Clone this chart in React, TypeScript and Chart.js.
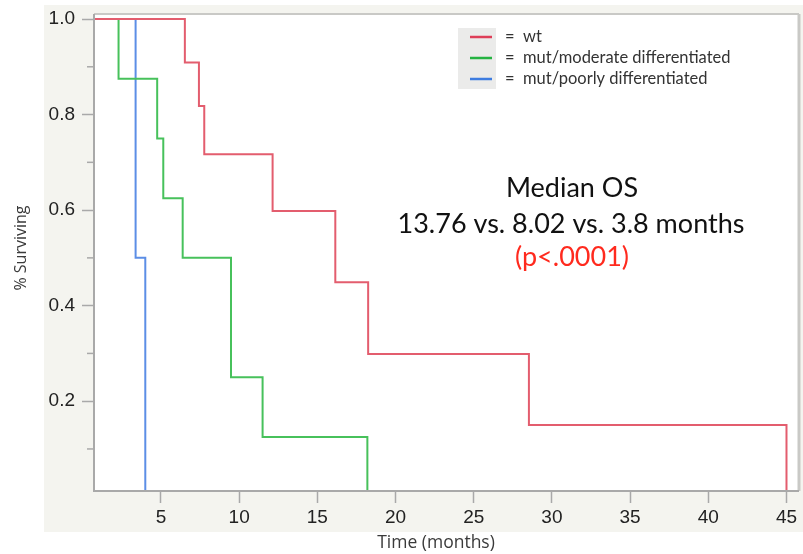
import React, { useEffect, useRef } from "react";
import { Chart, registerables } from "chart.js";

Chart.register(...registerables);

// ---- data ----
const seriesLabels = ["wt", "mut/moderate differentiated", "mut/poorly differentiated"];
const wtTime = [0, 6.53, 7.43, 7.77, 12.14, 16.15, 18.25, 28.53, 45.0];
const wtSurv = [1, 0.909, 0.818, 0.717, 0.598, 0.449, 0.299, 0.15, 0];
const modTime = [0, 2.29, 4.76, 5.15, 6.39, 9.48, 11.5, 18.2];
const modSurv = [1, 0.875, 0.75, 0.625, 0.5, 0.25, 0.125, 0];
const poorTime = [0, 3.38, 4.0];
const poorSurv = [1, 0.5, 0];

const xTickValues = [5, 10, 15, 20, 25, 30, 35, 40, 45];
const yMajorTicks = [0.2, 0.4, 0.6, 0.8, 1.0];
const yMinorTicks = [0.1, 0.3, 0.5, 0.7, 0.9];

const xTitle = "Time (months)";
const yTitle = "% Surviving";
const annotationLines = ["Median OS", "13.76 vs. 8.02 vs. 3.8 months"];
const pValueText = "(p<.0001)";

const lineColors = ["#e35d6e", "#47c15b", "#5c8ee6"];
const legendColors = ["#de3e58", "#25b342", "#3e7ce0"];

const toPoints = (xs: number[], ys: number[]) => xs.map((x, i) => ({ x, y: ys[i] }));

const isMajor = (v: number) => yMajorTicks.some((m) => Math.abs(m - v) < 1e-6);

const decorPlugin = {
  id: "decor",
  beforeDraw(chart: any) {
    const { ctx, chartArea: a, width, height } = chart;
    ctx.save();
    ctx.fillStyle = "#ffffff";
    ctx.fillRect(0, 0, width, height);
    ctx.fillStyle = "#f4f4ef";
    ctx.fillRect(44, 5, width - 44, 532 - 5);
    ctx.fillStyle = "#ffffff";
    ctx.fillRect(a.left, a.top, a.right - a.left, a.bottom - a.top);
    ctx.restore();
  },
  afterDraw(chart: any) {
    const { ctx, chartArea: a, scales } = chart;
    ctx.save();
    // frame
    ctx.lineWidth = 2;
    ctx.strokeStyle = "#c9c9c6";
    ctx.beginPath();
    ctx.moveTo(a.left, a.top);
    ctx.lineTo(a.right, a.top);
    ctx.stroke();
    ctx.lineWidth = 3;
    ctx.beginPath();
    ctx.moveTo(a.right, a.top);
    ctx.lineTo(a.right, a.bottom);
    ctx.stroke();
    ctx.lineWidth = 2;
    ctx.strokeStyle = "#a9a9a9";
    ctx.beginPath();
    ctx.moveTo(a.left, a.top);
    ctx.lineTo(a.left, a.bottom);
    ctx.lineTo(a.right, a.bottom);
    ctx.stroke();
    // minor y ticks
    ctx.lineWidth = 1.5;
    ctx.strokeStyle = "#a9a9a9";
    yMinorTicks.forEach((v) => {
      const y = scales.y.getPixelForValue(v);
      ctx.beginPath();
      ctx.moveTo(a.left - 7, y);
      ctx.lineTo(a.left, y);
      ctx.stroke();
    });

    // axis titles
    ctx.fillStyle = "#3a3a3a";
    ctx.textAlign = "center";
    ctx.textBaseline = "middle";
    ctx.font = "17.5px 'Open Sans', sans-serif";
    ctx.fillText(xTitle, 436, 543);
    ctx.font = "16px 'Open Sans', sans-serif";
    ctx.save();
    ctx.translate(21, 248);
    ctx.rotate(-Math.PI / 2);
    ctx.fillText(yTitle, 0, 0);
    ctx.restore();

    // legend
    ctx.fillStyle = "#ebebea";
    ctx.fillRect(458, 28, 38, 61);
    const rowsY = [37, 58, 79];
    chart.data.datasets.forEach((ds: any, i: number) => {
      ctx.strokeStyle = legendColors[i];
      ctx.lineWidth = 2.5;
      ctx.beginPath();
      ctx.moveTo(470, rowsY[i]);
      ctx.lineTo(492, rowsY[i]);
      ctx.stroke();
      ctx.fillStyle = "#333333";
      ctx.font = "16.5px Lato, sans-serif";
      ctx.textAlign = "left";
      ctx.textBaseline = "middle";
      ctx.fillText("=  " + ds.label, 505, rowsY[i]);
    });

    // annotation
    ctx.textAlign = "center";
    ctx.textBaseline = "alphabetic";
    ctx.font = "27px Lato, sans-serif";
    ctx.fillStyle = "#111111";
    ctx.fillText(annotationLines[0], 572, 197);
    ctx.fillText(annotationLines[1], 571, 233);
    ctx.fillStyle = "#ff2a1e";
    ctx.fillText(pValueText, 572, 266);
    ctx.restore();
  },
};

export default function App() {
  const ref = useRef<HTMLCanvasElement | null>(null);
  useEffect(() => {
    document.body.style.margin = "0";
    const canvas = ref.current;
    if (!canvas) return;
    const series = [
      toPoints(wtTime, wtSurv),
      toPoints(modTime, modSurv),
      toPoints(poorTime, poorSurv),
    ];
    const chart = new Chart(canvas, {
      type: "line",
      data: {
        datasets: series.map((data, i) => ({
          label: seriesLabels[i],
          data,
          borderColor: lineColors[i],
          backgroundColor: lineColors[i],
          borderWidth: 2,
          pointRadius: 0,
          stepped: "before" as const,
          fill: false,
        })),
      },
      options: {
        responsive: false,
        devicePixelRatio: 1,
        animation: false,
        layout: { padding: { left: 0, top: 14, right: 4, bottom: 0 } },
        plugins: { legend: { display: false }, tooltip: { enabled: false } },
        scales: {
          x: {
            type: "linear",
            min: 0.72,
            max: 45.8,
            afterBuildTicks: (s: any) => {
              s.ticks = xTickValues.map((v) => ({ value: v }));
            },
            afterFit: (s: any) => {
              s.height = 63;
              s.paddingLeft = 0;
              s.paddingRight = 0;
            },
            ticks: {
              autoSkip: false,
              maxRotation: 0,
              padding: 3,
              color: "#222222",
              font: { family: "'Liberation Sans', Arial, sans-serif", size: 19 },
              callback: (v: any) => String(v),
            },
            grid: {
              drawOnChartArea: false,
              drawTicks: true,
              tickLength: 12,
              tickColor: "#a9a9a9",
              tickWidth: 1.5,
            },
            border: { display: false },
          },
          y: {
            type: "linear",
            min: 0.012,
            max: 1.0105,
            afterBuildTicks: (s: any) => {
              s.ticks = [...yMinorTicks, ...yMajorTicks]
                .sort((p, q) => p - q)
                .map((v) => ({ value: v }));
            },
            afterFit: (s: any) => {
              s.width = 94;
              s.paddingTop = 0;
              s.paddingBottom = 0;
            },
            ticks: {
              autoSkip: false,
              padding: 7,
              color: "#222222",
              font: { family: "'Liberation Sans', Arial, sans-serif", size: 19 },
              callback: (v: any) => (isMajor(Number(v)) ? Number(v).toFixed(1) : ""),
            },
            grid: {
              drawOnChartArea: false,
              drawTicks: true,
              tickLength: 12,
              tickWidth: 1.5,
              tickColor: (c: any) => (c.tick && isMajor(c.tick.value) ? "#a9a9a9" : "rgba(0,0,0,0)"),
            },
            border: { display: false },
          },
        },
      },
      plugins: [decorPlugin],
    });
    return () => chart.destroy();
  }, []);
  return <canvas ref={ref} width={803} height={554} style={{ display: "block" }} />;
}
